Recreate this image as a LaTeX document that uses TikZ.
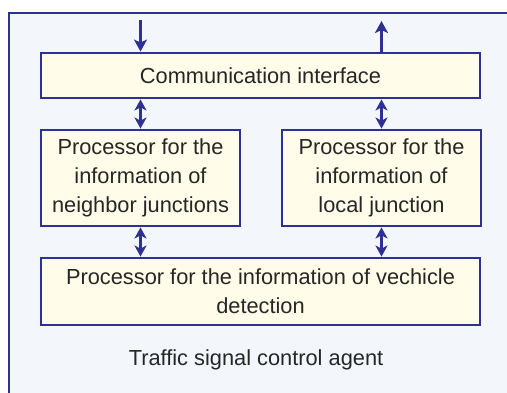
\documentclass[tikz,border=0pt]{standalone}
\usepackage{fontspec}
\setmainfont{Liberation Sans}
\usetikzlibrary{arrows.meta}
\definecolor{frameblue}{HTML}{2E3192}
\definecolor{bgblue}{HTML}{F3F7FC}
\definecolor{boxfill}{HTML}{FFFDE9}
\definecolor{txt}{HTML}{262626}
\tikzset{
  box/.style={draw=frameblue, line width=2.9pt, fill=boxfill, text=txt, align=center, inner sep=0pt,
    font=\fontsize{21.8}{29}\selectfont},
  conn/.style={draw=frameblue, line width=2.7pt, -{Stealth[length=12pt,width=13pt,inset=3pt]}},
  dconn/.style={draw=frameblue, line width=2.7pt, {Stealth[length=11pt,width=12pt,inset=3pt]}-{Stealth[length=11pt,width=12pt,inset=3pt]}}
}
\begin{document}
\begin{tikzpicture}[x=1pt,y=-1pt]
\useasboundingbox (0,0) rectangle (507,392);
\begin{scope}
\clip (0,0) rectangle (507,392);
\fill[bgblue] (9,13) rectangle (520,400);
\draw[frameblue, line width=2.9pt] (9,400) -- (9,13) -- (520,13);
\end{scope}
\node[box, minimum width=439pt, minimum height=45pt] (comm) at (260.5,75.5) {Communication interface};
\node[box, minimum width=199pt, minimum height=96pt] (nbr) at (140.5,178) {Processor for the\\information of\\neighbor junctions};
\node[box, minimum width=199pt, minimum height=96pt] (loc) at (381.5,178) {Processor for the\\information of\\local junction};
\node[box, minimum width=439pt, minimum height=67pt] (veh) at (260.5,291.5) {Processor for the information of vechicle\\detection};
\node[text=txt, font=\fontsize{21.8}{29}\selectfont] (agent) at (256,360) {Traffic signal control agent};
\coordinate (in) at (140.5,20);
\coordinate (out) at (381.5,21);
\draw[conn] (in) -- (in |- comm.north);
\draw[conn] (out |- comm.north) -- (out);
\draw[dconn] (nbr.north |- comm.south) -- (nbr.north);
\draw[dconn] (loc.north |- comm.south) -- (loc.north);
\draw[dconn] (nbr.south) -- (nbr.south |- veh.north);
\draw[dconn] (loc.south) -- (loc.south |- veh.north);
\end{tikzpicture}
\end{document}
